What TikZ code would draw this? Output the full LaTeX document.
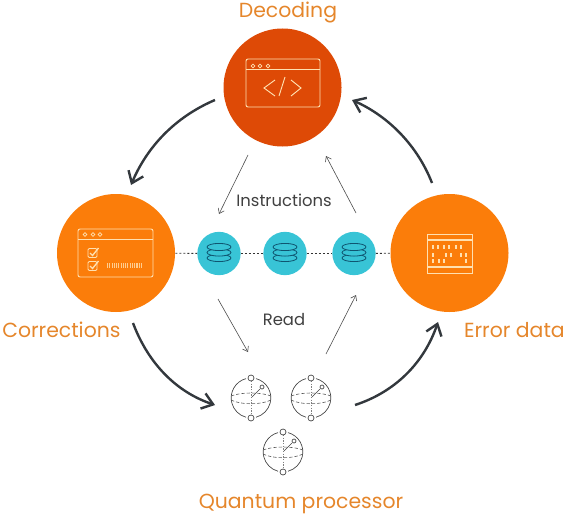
\documentclass[tikz,border=0pt]{standalone}
\usepackage{fontspec}
\setmainfont{Poppins}
\usetikzlibrary{arrows.meta,calc}
\definecolor{deco}{HTML}{DE4A06}
\definecolor{orng}{HTML}{FB7D0A}
\definecolor{teal2}{HTML}{38C4D6}
\definecolor{lab}{HTML}{E5862B}
\definecolor{dark}{HTML}{33383D}
\definecolor{dbl}{HTML}{0F5570}
\definecolor{ico}{HTML}{FFE0B0}
\tikzset{
  big/.style={circle,minimum size=88.5pt,inner sep=0pt,draw=none},
  small/.style={circle,fill=teal2,minimum size=32.5pt,inner sep=0pt},
  lbl/.style={text=lab,font=\fontsize{15.3}{18}\selectfont,inner sep=0pt},
  inner/.style={text=black!75,font=\fontsize{12.3}{15}\selectfont,inner sep=0pt},
  heavy/.style={draw=dark,line width=1.8pt,-{Straight Barb[length=8pt,width=12pt,line width=1.8pt]}},
  thin1/.style={draw=black!70,line width=0.45pt,-{Straight Barb[length=3.5pt,width=5pt,line width=0.45pt]}},
  link/.style={draw=black!80,line width=0.6pt,dash pattern=on 1.5pt off 1.5pt},
  icon/.style={draw=ico,line width=0.7pt},
  sph/.style={draw=black!75,line width=0.5pt},
  sphd/.style={draw=black!65,line width=0.45pt,dash pattern=on 2.5pt off 1.5pt},
}
\newcommand{\dbicon}[1]{%
  \foreach \dy in {5.5,0,-5.5}{
    \draw[draw=dbl,line width=0.6pt,fill=teal2] ($(#1)+(0,\dy-1)$) ellipse (12 and 3.6);
  }
}
\newcommand{\bloch}[1]{%
  \begin{scope}[shift={(#1)}]
    \draw[sph] (-5,-19.4) arc[start angle=-105,end angle=-255,radius=20];
    \draw[sph] (5,-19.4) arc[start angle=-75,end angle=75,radius=20];
    \draw[sphd] (-20,-2) .. controls (-10,-6) and (10,-6) .. (20,-2);
    \draw[sphd] (-20,2) .. controls (-10,7) and (10,7) .. (20,2);
    \draw[draw=black!50,line width=0.5pt,dash pattern=on 1pt off 1pt] (0,-17) -- (0,17);
    \draw[draw=black!75,line width=0.5pt] (1,-1) -- (9,-9);
    \draw[sph] (11,-11) circle (2);
    \draw[sph,fill=white] (0,-20) circle (3);
    \draw[sph,fill=white] (0,20) circle (3);
  \end{scope}
}
\begin{document}
\begin{tikzpicture}[x=0.75pt,y=-0.75pt]
\useasboundingbox (0,0) rectangle (566,517);
\node[big,fill=deco] (dec) at (282.5,87.5) {};
\node[big,fill=orng] (cor) at (116,253) {};
\node[big,fill=orng] (err) at (449.5,253) {};
\node[small] (q1) at (219,253.5) {};
\node[small] (q2) at (285,253.5) {};
\node[small] (q3) at (354,253.5) {};
\draw[link] (cor) -- (q1);
\draw[link] (q1) -- (q2);
\draw[link] (q2) -- (q3);
\draw[link] (q3) -- (err);
\dbicon{q1}\dbicon{q2}\dbicon{q3}

% labels
\node[lbl] (ldec) at (288,12) {Decoding};
\node[lbl,anchor=west] (lcor) at (2,330) {Corrections};
\node[lbl,anchor=east] (lerr) at (565,330) {Error data};
\node[lbl] (lq) at (301,504) {Quantum processor};
\node[inner] (inst) at (284,200) {Instructions};
\node[inner] (read) at (284,320) {Read};

% decoding icon
\draw[icon,rounded corners=1.5pt] (246,59) rectangle (320,107);
\draw[icon] (246,69) -- (320,69);
\foreach \x in {253,260,268}{\draw[icon,line width=0.5pt] (\x,66) circle (1.8);}
\draw[icon] (275,80) -- (264,88) -- (275,96);
\draw[icon] (291,80) -- (301,88) -- (291,96);
\draw[icon] (285,77) -- (279,96);

% corrections icon
\draw[icon,rounded corners=1.5pt] (78,229) rectangle (153,277);
\draw[icon] (78,239) -- (153,239);
\foreach \x in {85,93,100}{\draw[icon,line width=0.5pt] (\x,234.5) circle (1.8);}
\foreach \y in {253,266}{
  \draw[icon,rounded corners=1pt] (88,\y-4.5) rectangle (97,\y+4.5);
  \draw[icon,line width=1pt] (90,\y) -- (92.5,\y+2.5) -- (98.5,\y-5);
}
\draw[draw=ico!80!orng,line width=3.5pt,dash pattern=on 0.8pt off 0.9pt] (107,265.5) -- (143,265.5);

% error icon
\draw[draw=ico,line width=1.2pt] (427.5,234.5) rectangle (472.5,273.5);
\draw[draw=ico,line width=1.2pt] (427.5,240) -- (472.5,240);
\draw[draw=ico,line width=1.2pt] (427.5,267) -- (472.5,267);
\foreach \x/\y in {433/247,438/247,444/247,449/247,456/247,461/247,
                   433/255,446/255,451/255,461/255,466/255,
                   433/261,439/261,444/261,466/261}{
  \fill[ico] (\x-0.9,\y-1.6) rectangle (\x+0.9,\y+1.6);
}

% qubits
\coordinate (b1) at (251,398);
\coordinate (b2) at (311,398);
\coordinate (b3) at (283,452);
\bloch{b1}\bloch{b2}\bloch{b3}

% heavy arrows
\coordinate (a1s) at (215,100);
\coordinate (a1e) at (131,185);
\coordinate (a2s) at (432,183);
\coordinate (a2e) at (352,100);
\coordinate (a3s) at (133,323);
\coordinate (a3e) at (215,405);
\coordinate (a4s) at (355,405);
\coordinate (a4e) at (438,322);
\draw[heavy] (a1s) .. controls (175,117) and (147,147) .. (a1e);
\draw[heavy] (a2s) .. controls (418,147) and (390,117) .. (a2e);
\draw[heavy] (a3s) .. controls (148,363) and (176,392) .. (a3e);
\draw[heavy] (a4s) .. controls (395,392) and (424,363) .. (a4e);

% thin arrows
\coordinate (t1s) at (248,155);
\coordinate (t1e) at (219,214);
\coordinate (t2s) at (356,213);
\coordinate (t2e) at (326,156);
\coordinate (t3s) at (218,299);
\coordinate (t3e) at (248,352);
\coordinate (t4s) at (326,354);
\coordinate (t4e) at (356,295);
\draw[thin1] (t1s) -- (t1e);
\draw[thin1] (t2s) -- (t2e);
\draw[thin1] (t3s) -- (t3e);
\draw[thin1] (t4s) -- (t4e);
\end{tikzpicture}
\end{document}
